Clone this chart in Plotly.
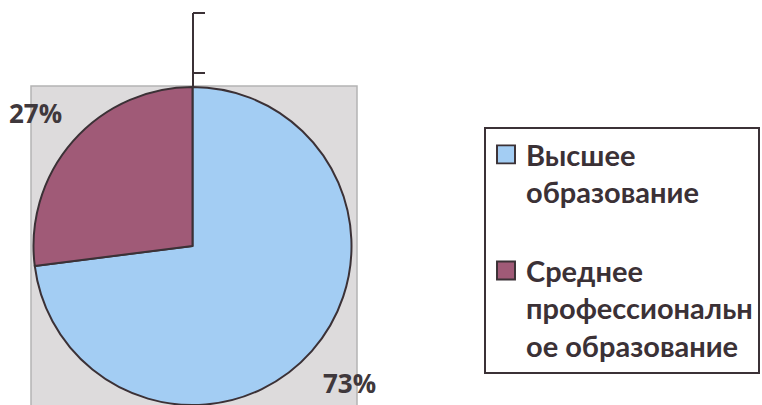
import plotly.graph_objects as go

# ---- data ----
categories = ["Высшее<br>образование<br> ", "Среднее<br>профессиональн<br>ое образование"]
values = [73, 27]
colors = ["#a3cdf3", "#a05a77"]

W, H = 762, 405
def X(px): return px / W
def Y(py): return 1 - py / H

total = sum(values)
pct = [f"{round(v / total * 100)}%" for v in values]

fig = go.Figure()
fig.add_trace(go.Pie(
    labels=categories,
    values=values,
    sort=False,
    direction="clockwise",
    rotation=0,
    marker=dict(colors=colors, line=dict(color="#3b3136", width=2)),
    textinfo="none",
    hoverinfo="label+percent",
    domain=dict(x=[X(33.5), X(351.5)], y=[Y(405), Y(87)]),
    showlegend=True,
))

dark = "#3b3136"
shapes = [
    # grey plot area
    dict(type="rect", xref="paper", yref="paper", x0=X(31), x1=X(357), y0=Y(420), y1=Y(86),
         fillcolor="#dddbdc", line=dict(color="#b4b4b4", width=1.5), layer="below"),
    # bracket above
    dict(type="line", xref="paper", yref="paper", x0=X(193), x1=X(193), y0=Y(87), y1=Y(13),
         line=dict(color=dark, width=2)),
    dict(type="line", xref="paper", yref="paper", x0=X(193), x1=X(205), y0=Y(13), y1=Y(13),
         line=dict(color=dark, width=2)),
    dict(type="line", xref="paper", yref="paper", x0=X(193), x1=X(205), y0=Y(73), y1=Y(73),
         line=dict(color=dark, width=2)),
]

label_pos = [(349, 383), (35, 113)]
annotations = []
for t, (lx, ly) in zip(pct, label_pos):
    annotations.append(dict(x=X(lx), y=Y(ly), xref="paper", yref="paper", text=f"<b>{t}</b>",
                            showarrow=False, xanchor="center", yanchor="middle",
                            font=dict(family="Open Sans, Lato, sans-serif", size=26, color="#3f383c")))

fig.update_layout(
    width=W, height=H,
    margin=dict(l=0, r=0, t=0, b=0),
    paper_bgcolor="white",
    shapes=shapes,
    annotations=annotations,
    legend=dict(
        x=X(484), y=Y(127), xanchor="left", yanchor="top",
        bgcolor="white", bordercolor=dark, borderwidth=2,
        font=dict(family="Lato, Open Sans, sans-serif", size=29, color="#3b3136", weight="bold"),
        valign="top",
    ),
)

post = (
    "document.body.style.margin='0';document.body.style.overflow='hidden';"
    "document.querySelectorAll('.legendpoints path').forEach(function(p){"
    "var t=p.getAttribute('transform')||'';"
    "p.setAttribute('transform',t+' scale(1.5)');p.style.strokeWidth='1.3px';});"
)
fig.write_html("out.html", post_script=post, config={"displayModeBar": False})
